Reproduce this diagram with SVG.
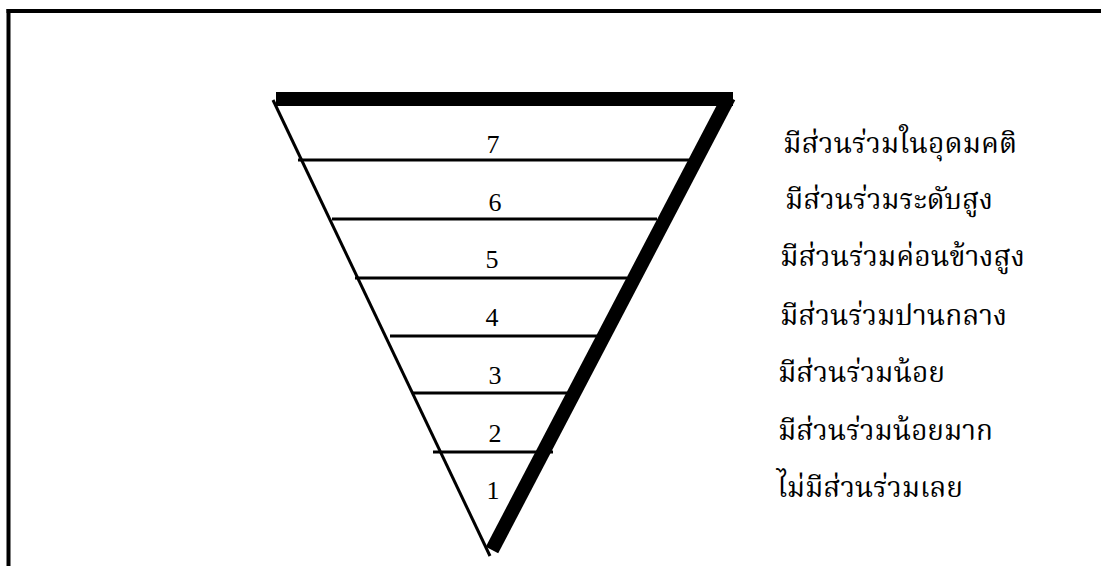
<svg xmlns="http://www.w3.org/2000/svg" width="1101" height="566" viewBox="0 0 1101 566">
<style>
.frame{stroke:#000;stroke-width:4;fill:none}
.thin{stroke:#000;stroke-width:3;fill:none}
.thick{stroke:#000;stroke-width:14;fill:none}
.num{font-family:"Liberation Serif","Times New Roman",serif;font-size:26px;fill:#000;text-anchor:middle}
.lbl{font-family:"Noto Serif Thai","Noto Sans Thai","Noto Sans",sans-serif;font-size:29px;fill:#000}
</style>
<rect width="1101" height="566" fill="#fff"/>
<g id="frame">
<line class="frame" x1="6.5" y1="11" x2="1101" y2="11"/>
<line class="frame" x1="8.5" y1="9" x2="8.5" y2="566"/>
</g>
<g id="pyramid">
<line class="thin" x1="273" y1="100" x2="490" y2="556"/>
<line class="thick" x1="276" y1="99" x2="733" y2="99"/>
<line class="thick" x1="729" y1="97" x2="492" y2="550"/>
</g>
<g id="connectors">
<line class="thin" x1="298" y1="160" x2="690" y2="160"/>
<line class="thin" x1="332" y1="219" x2="657" y2="219"/>
<line class="thin" x1="355" y1="278" x2="627" y2="278"/>
<line class="thin" x1="390" y1="336" x2="597" y2="336"/>
<line class="thin" x1="413" y1="393" x2="567" y2="393"/>
<line class="thin" x1="433" y1="452" x2="553" y2="452"/>
</g>
<g id="numbers">
<text class="num" x="493" y="153">7</text>
<text class="num" x="495" y="211">6</text>
<text class="num" x="492" y="268">5</text>
<text class="num" x="492" y="326">4</text>
<text class="num" x="495" y="384">3</text>
<text class="num" x="495" y="442">2</text>
<text class="num" x="493" y="499">1</text>
</g>
<g id="labels">
<text class="lbl" x="783" y="153" textLength="234" lengthAdjust="spacingAndGlyphs">มีส่วนร่วมในอุดมคติ</text>
<text class="lbl" x="785" y="209" textLength="208" lengthAdjust="spacingAndGlyphs">มีส่วนร่วมระดับสูง</text>
<text class="lbl" x="780" y="266" textLength="245" lengthAdjust="spacingAndGlyphs">มีส่วนร่วมค่อนข้างสูง</text>
<text class="lbl" x="780" y="325" textLength="227" lengthAdjust="spacingAndGlyphs">มีส่วนร่วมปานกลาง</text>
<text class="lbl" x="778" y="382" textLength="167" lengthAdjust="spacingAndGlyphs">มีส่วนร่วมน้อย</text>
<text class="lbl" x="778" y="440" textLength="215" lengthAdjust="spacingAndGlyphs">มีส่วนร่วมน้อยมาก</text>
<text class="lbl" x="777" y="497" textLength="186" lengthAdjust="spacingAndGlyphs">ไม่มีส่วนร่วมเลย</text>
</g>
</svg>
